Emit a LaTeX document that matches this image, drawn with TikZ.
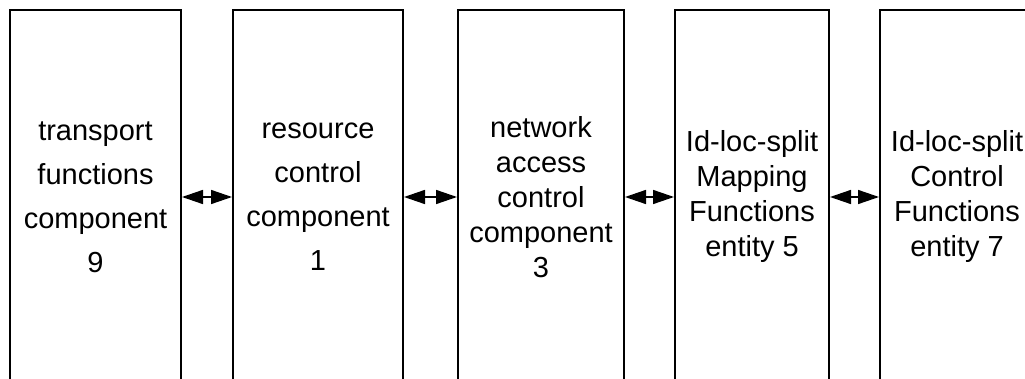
\documentclass[tikz,border=0pt]{standalone}
\usepackage{fontspec}
\setmainfont{Liberation Sans}
\usetikzlibrary{arrows.meta}

\tikzset{
  comp/.style={draw, line width=2pt, minimum width=#1, minimum height=374pt,
    inner sep=0pt, align=center, font=\fontsize{29}{35}\selectfont},
  wide/.style={font=\fontsize{29}{44}\selectfont},
  link/.style={line width=1.5pt,
    {Triangle[length=21pt,width=14pt]}-{Triangle[length=21pt,width=14pt]}}
}

\begin{document}
\begin{tikzpicture}[x=1pt, y=1pt, semithick]
  \useasboundingbox (0,0) rectangle (1025,378);
  \clip (0,0) rectangle (1025,378);

  \node[comp=171pt, wide] (TF) at (95.5,181) {transport\\functions\\component\\9};
  \node[comp=170pt, wide] (RC) at (318,181) {resource\\control\\component\\1};
  \node[comp=166pt] (NAC) at (541,181) {network\\access\\control\\component\\3};
  \node[comp=154pt] (MF) at (752,181) {Id-loc-split\\Mapping\\Functions\\entity 5};
  \node[comp=154pt] (CF) at (957,181) {Id-loc-split\\Control\\Functions\\entity 7};

  \draw[link] (TF.east) -- (RC.west);
  \draw[link] (RC.east) -- (NAC.west);
  \draw[link] (NAC.east) -- (MF.west);
  \draw[link] (MF.east) -- (CF.west);
\end{tikzpicture}
\end{document}
